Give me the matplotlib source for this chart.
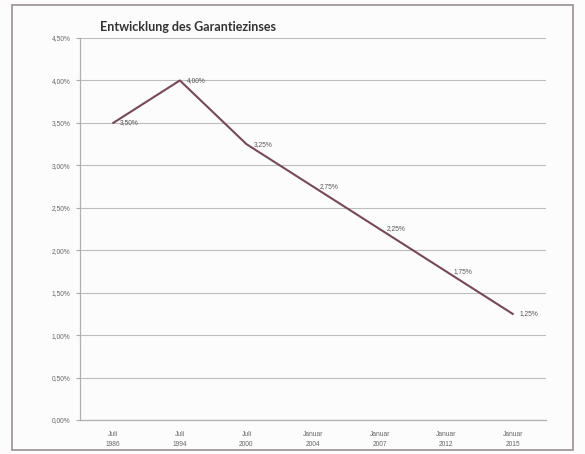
import matplotlib
matplotlib.use("Agg")
import matplotlib.pyplot as plt
from matplotlib.patches import Rectangle

categories = ["Juli\n1986", "Juli\n1994", "Juli\n2000", "Januar\n2004", "Januar\n2007", "Januar\n2012", "Januar\n2015"]
rates = [3.50, 4.00, 3.25, 2.75, 2.25, 1.75, 1.25]
yticks = [0.0, 0.5, 1.0, 1.5, 2.0, 2.5, 3.0, 3.5, 4.0, 4.5]
title = "Entwicklung des Garantiezinses"

def pct(v):
    return f"{v:.2f}%".replace(".", ",")

W, H = 585, 454
fig = plt.figure(figsize=(W / 100, H / 100), dpi=100)
fig.patch.set_facecolor("#fdfcfc")

# outer frame
fig.patches.append(Rectangle((12 / W, 1 - 450 / H), (573 - 12) / W, (450 - 5) / H,
                             transform=fig.transFigure, fill=False,
                             edgecolor="#9a8f94", linewidth=1.2))

ax = fig.add_axes([80 / W, 1 - 420 / H, (546 - 80) / W, (420 - 38) / H])
ax.set_facecolor("none")
x = list(range(len(categories)))
ax.plot(x, rates, color="#74495a", linewidth=1.5, zorder=3)
for xi, v in zip(x, rates):
    ax.annotate(pct(v), (xi, v), xytext=(5, 0), textcoords="offset points",
                ha="left", va="center", fontsize=4.8, color="#555555",
                family="Liberation Sans")

ax.set_xlim(-0.5, len(categories) - 0.5)
ax.set_ylim(0, 4.5)
ax.set_yticks(yticks)
ax.set_yticklabels([pct(v) for v in yticks], fontsize=4.8, color="#666666",
                   family="Liberation Sans")
ax.set_xticks(x)
ax.set_xticklabels(categories, fontsize=4.8, color="#666666", family="Liberation Sans",
                   linespacing=1.6)
ax.tick_params(axis="y", length=3, color="#aaaaaa", width=0.8, pad=4)
ax.tick_params(axis="x", length=0, pad=8)
ax.grid(axis="y", color="#bdbdbd", linewidth=0.8)
for s in ["top", "right"]:
    ax.spines[s].set_visible(False)
ax.spines["left"].set_color("#b0b0b0")
ax.spines["bottom"].set_color("#b0b0b0")
ax.spines["left"].set_linewidth(0.9)
ax.spines["bottom"].set_linewidth(0.9)

fig.text(100 / W, 1 - 27 / H, title, fontsize=9, fontweight="bold",
         family="Lato", color="#333333", ha="left", va="center")

fig.savefig("out.png", dpi=100, facecolor=fig.get_facecolor())
